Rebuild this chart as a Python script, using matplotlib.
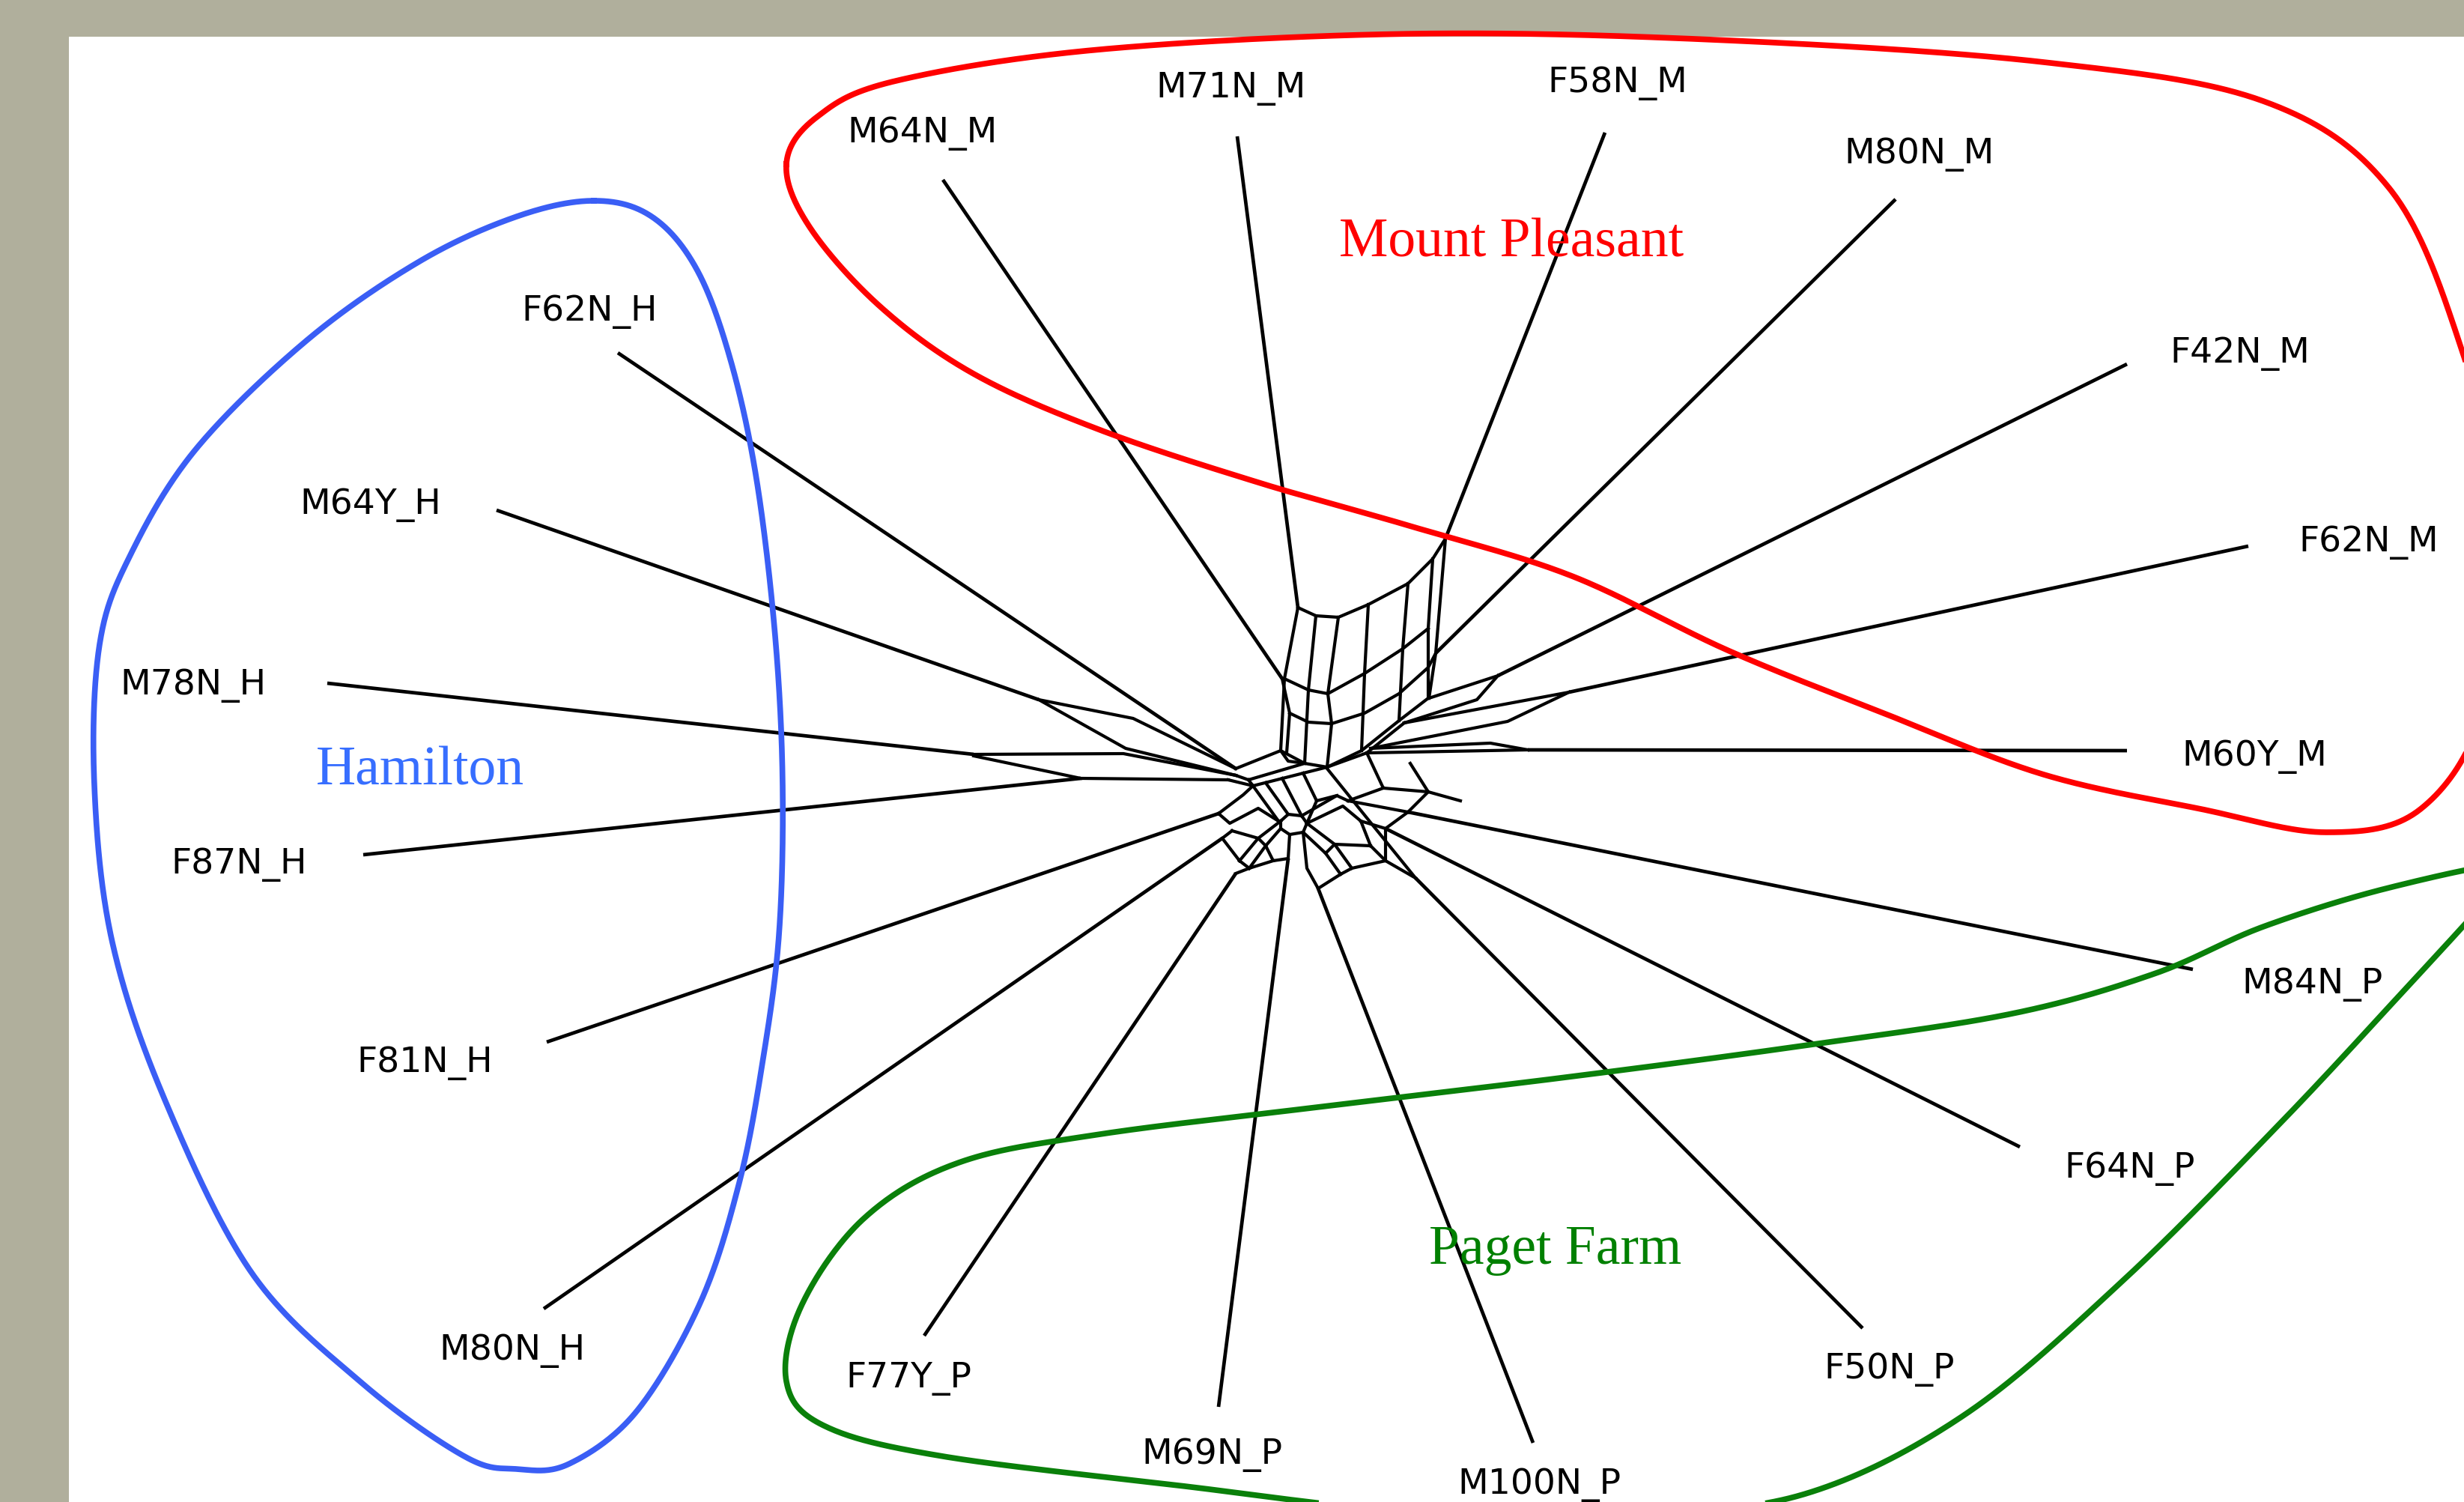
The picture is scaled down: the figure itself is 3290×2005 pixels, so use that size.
import numpy as np
import matplotlib
matplotlib.use("Agg")
import matplotlib.pyplot as plt
from matplotlib.patches import Rectangle

# taxa: label text, label centre, tip of the leaf edge, inner end of the leaf edge (pixel coords)
names = ["M64N_M", "M71N_M", "F58N_M", "M80N_M", "F42N_M", "F62N_M", "M60Y_M",
         "M84N_P", "F64N_P", "F50N_P", "M100N_P", "M69N_P", "F77Y_P",
         "M80N_H", "F81N_H", "F87N_H", "M78N_H", "M64Y_H", "F62N_H"]
label_x = [1232, 1644, 2160, 2563, 2991, 3163, 3010, 3088, 2844, 2523, 2055, 1618, 1213,
           684, 567, 319, 258, 495, 787]
label_y = [178, 118, 111, 206, 472, 724, 1010, 1314, 1560, 1828, 1982, 1942, 1841,
           1803, 1419, 1154, 915, 674, 416]
tip_x = [1259, 1652, 2143, 2531, 2840, 3002, 2840, 2928, 2697, 2487, 2047, 1627, 1234,
         726, 730, 485, 437, 663, 825]
tip_y = [241, 183, 178, 267, 487, 730, 1003, 1295, 1532, 1774, 1927, 1879, 1784,
         1748, 1392, 1142, 913, 682, 472]
inner_x = [1712, 1733, 1930, 1917, 2000, 2095, 2040, 1880, 1850, 1890, 1760, 1720, 1650,
           1632, 1627, 1443, 1300, 1387, 1650]
inner_y = [907, 812, 720, 873, 903, 925, 1002, 1085, 1107, 1173, 1187, 1147, 1167,
           1120, 1087, 1040, 1008, 935, 1027]

# internal edges of the splits network (polylines)
tube = [
    [(1733, 812), (1757, 823), (1787, 825), (1827, 808), (1880, 780), (1913, 747), (1930, 720)],
    [(1733, 812), (1715, 907), (1710, 1003)],
    [(1712, 907), (1722, 953), (1718, 1006)],
    [(1757, 823), (1747, 922), (1742, 1020)],
    [(1787, 825), (1773, 927), (1778, 967), (1772, 1025)],
    [(1827, 808), (1822, 900), (1818, 1003)],
    [(1880, 780), (1873, 867), (1868, 963)],
    [(1913, 747), (1907, 840), (1907, 933)],
    [(1930, 720), (1917, 873), (1908, 933)],
    [(1715, 907), (1747, 922), (1773, 927), (1822, 900), (1873, 867), (1907, 840)],
    [(1722, 953), (1747, 965), (1778, 967), (1822, 953), (1868, 927), (1907, 892), (1917, 873)],
    [(1710, 1003), (1742, 1020), (1772, 1025), (1818, 1003), (1868, 963), (1907, 933)],
]
left_fan = [
    [(1387, 935), (1513, 960), (1650, 1027)],
    [(1387, 935), (1503, 1000), (1650, 1036)],
    [(1300, 1008), (1500, 1007), (1650, 1036)],
    [(1300, 1010), (1443, 1040)],
    [(1443, 1040), (1640, 1042)],
    [(1650, 1027), (1710, 1003)],
    [(1650, 1036), (1667, 1042), (1742, 1020)],
    [(1640, 1042), (1673, 1050), (1772, 1025)],
    [(1710, 1003), (1720, 1017), (1742, 1020)],
    [(1667, 1042), (1673, 1050)],
    [(1627, 1087), (1660, 1062), (1673, 1050)],
    [(1627, 1087), (1642, 1100), (1680, 1080), (1707, 1097)],
]
hub = [
    [(1710, 1097), (1720, 1088), (1738, 1090), (1745, 1100), (1740, 1112), (1722, 1115),
     (1710, 1107), (1710, 1097)],
    [(1673, 1050), (1707, 1097)],
    [(1690, 1046), (1720, 1088)],
    [(1712, 1040), (1738, 1090)],
    [(1740, 1033), (1758, 1070), (1745, 1100)],
    [(1745, 1100), (1793, 1077), (1817, 1097), (1830, 1130)],
    [(1738, 1090), (1785, 1063), (1800, 1070)],
    [(1758, 1070), (1785, 1063)],
    [(1722, 1115), (1720, 1147)],
    [(1760, 1187), (1745, 1160), (1740, 1112)],
    [(1740, 1112), (1770, 1140), (1790, 1168)],
    [(1745, 1100), (1782, 1128), (1805, 1160)],
    [(1770, 1140), (1782, 1128), (1830, 1130)],
    [(1790, 1168), (1805, 1160), (1850, 1150)],
    [(1760, 1187), (1790, 1168)],
    [(1710, 1107), (1690, 1130), (1668, 1160)],
    [(1710, 1097), (1680, 1120), (1655, 1150)],
    [(1690, 1130), (1680, 1120), (1645, 1110)],
    [(1668, 1160), (1655, 1150)],
    [(1650, 1167), (1668, 1160)],
    [(1645, 1110), (1632, 1120)],
    [(1655, 1150), (1632, 1120)],
    [(1720, 1147), (1700, 1150), (1690, 1130)],
    [(1700, 1150), (1668, 1160)],
]
right_fan = [
    [(2000, 903), (1908, 933)],
    [(2000, 903), (1972, 935), (1875, 966)],
    [(2095, 925), (1875, 966)],
    [(2095, 925), (2013, 964), (1830, 1000)],
    [(2040, 1002), (1825, 1006)],
    [(2040, 1002), (1990, 993), (1830, 1000)],
    [(1875, 966), (1825, 1006), (1772, 1025)],
    [(1825, 1006), (1847, 1053), (1907, 1058), (1950, 1070)],
    [(1883, 1020), (1907, 1058)],
    [(1880, 1085), (1800, 1070)],
    [(1880, 1085), (1907, 1058)],
    [(1850, 1107), (1817, 1097)],
    [(1850, 1107), (1880, 1085)],
    [(1890, 1173), (1826, 1094), (1772, 1027)],
    [(1890, 1173), (1850, 1150), (1830, 1130)],
    [(1850, 1107), (1850, 1150)],
    [(1847, 1053), (1800, 1070)],
]

# enclosing outlines of the three sampling sites
groups = ["Mount Pleasant", "Hamilton", "Paget Farm"]
group_x = [2018, 561, 2077]
group_y = [342, 1047, 1687]
group_colors = ["#ff0000", "#376eff", "#008000"]
outline_colors = ["#ff0000", "#3a5ef5", "#0a800a"]
red_outline = [(1050, 220), (1091, 157), (1196, 109), (1469, 67), (1889, 46), (2309, 55),
               (2729, 84), (3022, 136), (3190, 252), (3285, 462), (3337, 693), (3316, 945),
               (3232, 1081), (3106, 1112), (2939, 1081), (2729, 1035), (2520, 955),
               (2309, 870), (2099, 770), (1889, 705), (1680, 645), (1469, 575),
               (1300, 500), (1175, 410), (1081, 304)]
blue_outline = [(793, 269), (870, 290), (930, 360), (975, 480), (1010, 640), (1035, 850),
                (1045, 1050), (1040, 1250), (1018, 1420), (987, 1580), (935, 1740),
                (850, 1885), (760, 1955), (690, 1962), (620, 1945), (483, 1847),
                (336, 1700), (220, 1469), (150, 1259), (126, 1050), (133, 861),
                (175, 740), (262, 600), (410, 455), (560, 350), (690, 290)]
green_outline = [(3358, 1154), (3190, 1186), (3022, 1238), (2876, 1301), (2687, 1354),
                 (2414, 1396), (2099, 1438), (1784, 1476), (1469, 1515), (1280, 1553),
                 (1154, 1627), (1071, 1742), (1050, 1845), (1102, 1905), (1259, 1945),
                 (1574, 1984), (1889, 2019), (2204, 2019), (2414, 1994), (2624, 1889),
                 (2834, 1711), (3044, 1501), (3211, 1322), (3316, 1207)]


def closed_curve(pts, n=40):
    P = np.asarray(pts, float)
    m = len(P)
    t = np.linspace(0, 1, n, endpoint=False)[:, None]
    segs = []
    for i in range(m):
        p0, p1, p2, p3 = P[i - 1], P[i], P[(i + 1) % m], P[(i + 2) % m]
        segs.append(0.5 * (2 * p1 + (p2 - p0) * t + (2 * p0 - 5 * p1 + 4 * p2 - p3) * t ** 2
                           + (3 * p1 - p0 - 3 * p2 + p3) * t ** 3))
    c = np.vstack(segs)
    return np.vstack([c, c[:1]])


W, H = 3291, 2006
fig = plt.figure(figsize=(W / 100, H / 100), dpi=100)
fig.patch.set_facecolor("#b0af9c")
ax = fig.add_axes([0, 0, 1, 1])
ax.set_xlim(0, W)
ax.set_ylim(H, 0)
ax.axis("off")
ax.add_patch(Rectangle((92, 50), W - 92, H - 50, facecolor="white", edgecolor="none", zorder=0))

# leaf edges
for tx, ty, ix, iy in zip(tip_x, tip_y, inner_x, inner_y):
    ax.plot([tx, ix], [ty, iy], color="black", lw=3.4, solid_capstyle="butt", zorder=2)

# network web
for line in tube + left_fan + hub + right_fan:
    xs, ys = zip(*line)
    ax.plot(xs, ys, color="black", lw=3.0, solid_joinstyle="round", zorder=2)

# taxon labels
for name, lx, ly in zip(names, label_x, label_y):
    ax.text(lx, ly, name, ha="center", va="center", fontsize=34,
            family="DejaVu Sans", color="black", zorder=3)

# site outlines and names
for pts, col in zip([red_outline, blue_outline, green_outline], outline_colors):
    c = closed_curve(pts)
    ax.plot(c[:, 0], c[:, 1], color=col, lw=5.5, zorder=4)

for g, gx, gy, col in zip(groups, group_x, group_y, group_colors):
    ax.text(gx, gy, g, ha="center", va="baseline", fontsize=53,
            family="Liberation Serif", color=col, zorder=5)

fig.savefig("out.png", dpi=100, facecolor=fig.get_facecolor())
